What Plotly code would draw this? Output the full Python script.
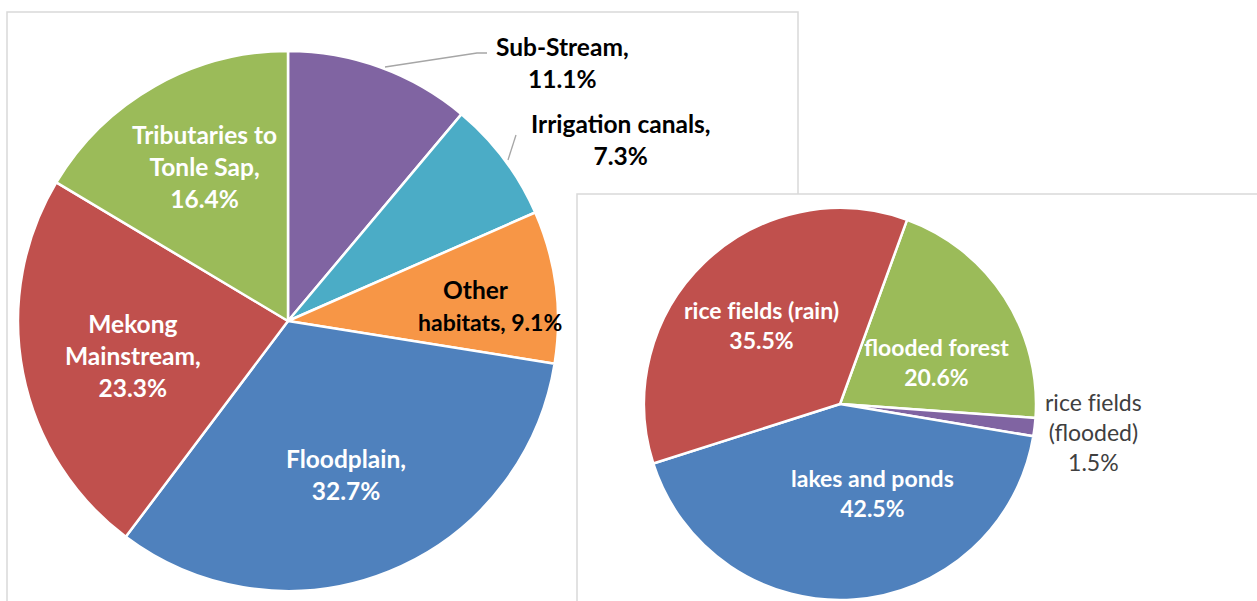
import plotly.graph_objects as go

W, H = 1257, 601

# ---- data ----
left_labels = ["Sub-Stream", "Irrigation canals", "Other habitats", "Floodplain",
               "Mekong Mainstream", "Tributaries to Tonle Sap"]
left_values = [11.1, 7.3, 9.1, 32.7, 23.3, 16.4]
left_colors = ["#8064A2", "#4BACC6", "#F79646", "#4F81BD", "#C0504D", "#9BBB59"]

right_labels = ["flooded forest", "rice fields (flooded)", "lakes and ponds", "rice fields (rain)"]
right_values = [20.6, 1.5, 42.5, 35.5]
right_colors = ["#9BBB59", "#8064A2", "#4F81BD", "#C0504D"]


def px(x):
    return x / W


def py(y):
    return 1 - y / H


FONT = "Lato"
ZWNJ = "\u200c"  # avoid the "fi" ligature

fig = go.Figure()

fig.add_trace(go.Pie(
    labels=left_labels, values=left_values, sort=False, direction="clockwise",
    rotation=0, textinfo="none", hoverinfo="label+percent",
    marker=dict(colors=left_colors, line=dict(color="white", width=2.5)),
    domain=dict(x=[px(18), px(558)], y=[py(591), py(51)]),
    showlegend=False,
))

fig.add_trace(go.Pie(
    labels=right_labels, values=right_values, sort=False, direction="clockwise",
    rotation=20, textinfo="none", hoverinfo="label+percent",
    marker=dict(colors=right_colors, line=dict(color="white", width=2.5)),
    domain=dict(x=[px(644), px(1036)], y=[py(600), py(208)]),
    showlegend=False,
))

# ---- panel borders ----
shapes = [
    dict(type="rect", xref="paper", yref="paper", layer="below",
         x0=px(7), y0=py(640), x1=px(798), y1=py(12),
         line=dict(color="#D9D9D9", width=1.5), fillcolor="white"),
    dict(type="rect", xref="paper", yref="paper", layer="below",
         x0=px(577), y0=py(640), x1=px(1300), y1=py(194),
         line=dict(color="#D9D9D9", width=1.5), fillcolor="white"),
    # leader lines
    dict(type="path", xref="paper", yref="paper",
         path=f"M {px(385)},{py(67)} L {px(477)},{py(53)} L {px(487)},{py(53)}",
         line=dict(color="#A6A6A6", width=1.3)),
    dict(type="line", xref="paper", yref="paper",
         x0=px(508), y0=py(160), x1=px(516), y1=py(135),
         line=dict(color="#A6A6A6", width=1.3)),
]


def ann(text, x, y, color, size, bold=True):
    text = text.replace("fi", "f" + ZWNJ + "i")
    t = f"<b>{text}</b>" if bold else text
    return dict(text=t, x=px(x), y=py(y), xref="paper", yref="paper",
                xanchor="center", yanchor="middle", showarrow=False,
                align="center", font=dict(family=FONT, size=size, color=color))


annotations = [
    ann("Tributaries to<br>Tonle Sap,<br>16.4%", 204, 166, "white", 24.5),
    ann("Mekong<br>Mainstream,<br>23.3%", 133, 355, "white", 24.5),
    ann("Floodplain,<br>32.7%", 346, 474, "white", 24.5),
    ann("Other", 476, 289, "black", 24.5),
    ann("habitats, 9.1%", 490, 322, "black", 23),
    ann("Sub-Stream,<br>11.1%", 562, 62, "black", 24.5),
    ann("Irrigation canals,<br>7.3%", 620, 139, "black", 24.5),
    ann("rice fields (rain)<br>35.5%", 761, 325, "white", 23),
    ann("flooded forest<br>20.6%", 936, 362, "white", 23),
    ann("lakes and ponds<br>42.5%", 872, 493, "white", 23),
    ann("rice fields<br>(flooded)<br>1.5%", 1093, 432, "#404040", 23, bold=False),
]

fig.update_layout(
    width=W, height=H, margin=dict(l=0, r=0, t=0, b=0),
    paper_bgcolor="white", plot_bgcolor="white",
    shapes=shapes, annotations=annotations,
)

fig.write_html("out.html", config={"displayModeBar": False},
               post_script="document.body.style.margin='0';document.body.style.padding='0';")
